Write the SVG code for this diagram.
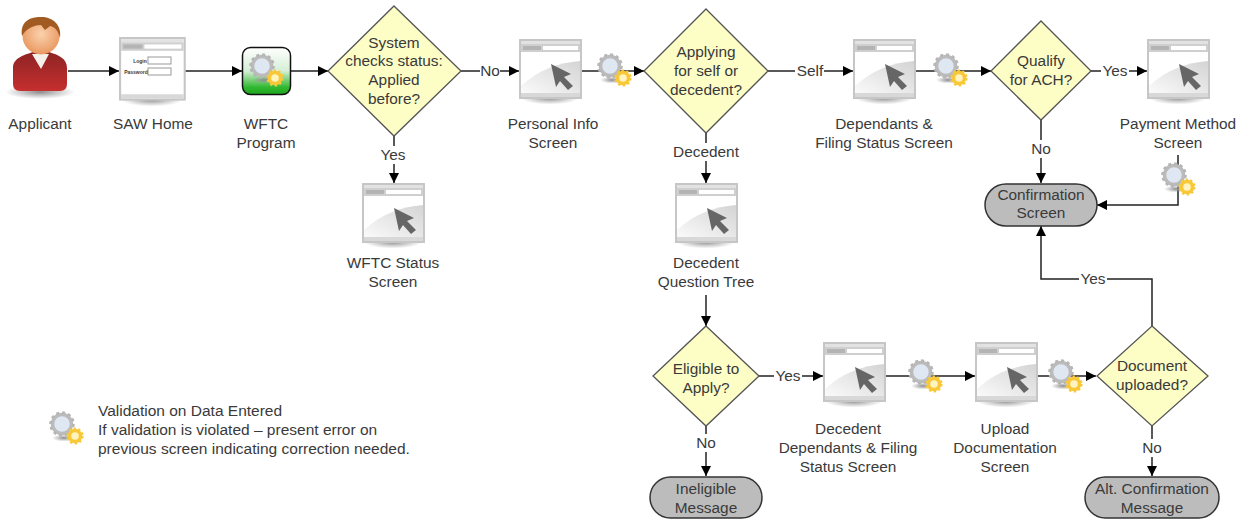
<svg xmlns="http://www.w3.org/2000/svg" width="1247" height="521" viewBox="0 0 1247 521">
<style>
text{font-family:"Liberation Sans",Arial,sans-serif;font-size:15.4px;fill:#3a3a3a;text-anchor:middle}
.legend{text-anchor:start;font-size:15.500px}
.dec{fill:#fdfdc6;stroke:#555;stroke-width:1.3}
.term{fill:#bcbcbc;stroke:#333;stroke-width:1.5}
.c{fill:none;stroke:#222;stroke-width:1.5;marker-end:url(#arrow)}
.lbl{fill:#fff;stroke:none}
</style>
<defs>
<marker id="arrow" markerUnits="userSpaceOnUse" markerWidth="11" markerHeight="11" refX="10" refY="5" orient="auto"><path d="M0 0L10 5L0 10Z" fill="#000"/></marker>
<linearGradient id="gred" x1="0" y1="0" x2="0" y2="1"><stop offset="0" stop-color="#8e2424"/><stop offset="1" stop-color="#c62f2f"/></linearGradient>
<linearGradient id="ggreen" x1="0" y1="0" x2="0" y2="1"><stop offset="0" stop-color="#fff"/><stop offset=".5" stop-color="#d6eed6"/><stop offset=".85" stop-color="#2fb82f"/><stop offset="1" stop-color="#1fa51f"/></linearGradient>
<linearGradient id="gswoosh" x1="0" y1="1" x2="1" y2="0"><stop offset="0" stop-color="#fafafa"/><stop offset="1" stop-color="#d4d4d4"/></linearGradient>
<radialGradient id="gface" cx=".5" cy=".45" r=".6"><stop offset="0" stop-color="#fbd2ad"/><stop offset="1" stop-color="#e8935a"/></radialGradient>
<radialGradient id="gsh" cx=".5" cy=".5" r=".5"><stop offset="0" stop-color="#8c8c8c"/><stop offset="1" stop-color="#999" stop-opacity="0"/></radialGradient>
<g id="window">
<ellipse cx="31" cy="59" rx="29" ry="6.500" fill="url(#gsh)"/>
<rect x="1" y="1" width="61" height="58" fill="#fff" stroke="#c6c6c6" stroke-width="2"/>
<rect x="2" y="2" width="59" height="3" fill="#e2e2e2"/>
<rect x="2" y="5" width="59" height="8" fill="#cfcfcf"/>
<rect x="4" y="7" width="18" height="4" fill="#b4b4b4"/>
<rect x="24" y="7" width="35" height="4" fill="#fff"/>
<rect x="2" y="54" width="59" height="4" fill="#d8d8d8"/>
</g>
<g id="screen">
<use href="#window"/>
<path d="M2 47C20 30 40 24 61 22V54H2Z" fill="url(#gswoosh)"/>
<path d="M32 25L52 35L45 38L54 47L49 51L41 42L37 48Z" fill="#666"/>
</g>
<g id="gear">
<ellipse cx="14" cy="26" rx="12" ry="3.500" fill="url(#gsh)"/>
<circle cx="12" cy="12" r="9.500" fill="#dfe7f3" stroke="#bbb" stroke-width="3.500"/>
<circle cx="12" cy="12" r="11.500" fill="none" stroke="#b5b5b5" stroke-width="2.500" stroke-dasharray="3 3"/>
<circle cx="25" cy="24" r="5.500" fill="#fff4c0" stroke="#f8c838" stroke-width="3.500"/>
<circle cx="25" cy="24" r="7.500" fill="none" stroke="#f8c838" stroke-width="2.200" stroke-dasharray="2.400 2.400"/>
</g>
</defs>
<rect width="1247" height="521" fill="#fff"/>
<g id="connectors">
<path class="c" d="M68 71H119"/>
<path class="c" d="M185 71H242"/>
<path class="c" d="M291 71H328"/>
<path class="c" d="M461 71H519"/>
<path class="c" d="M581 71H644"/>
<path class="c" d="M768 71H853"/>
<path class="c" d="M915 71H991"/>
<path class="c" d="M1091 71H1147"/>
<path class="c" d="M394 136V183"/>
<path class="c" d="M706 133V183"/>
<path class="c" d="M1041 120V183"/>
<path class="c" d="M1178 155V205H1097"/>
<path class="c" d="M706 295V326"/>
<path class="c" d="M759 376H823"/>
<path class="c" d="M885 376H975"/>
<path class="c" d="M1037 376H1096"/>
<path class="c" d="M706 426V476"/>
<path class="c" d="M1152 426V476"/>
<path class="c" d="M1152 326V279H1041V226"/>
</g>
<g id="applicant">
<ellipse cx="40" cy="92" rx="35" ry="7" fill="url(#gsh)"/>
<path d="M13 84V68C13 58 24 55 33 52H49C58 55 67 58 67 68V84Q67 91 60 91H20Q13 91 13 84Z" fill="url(#gred)"/>
<path d="M32 54L41 69L49 54Z" fill="#f4f0ea"/>
<circle cx="41" cy="36" r="18.500" fill="url(#gface)"/>
<path d="M22 36C20 22 29 17 41 17C53 17 62 25 60 38C58 30 55 27 50 26L45 30L41 25C33 25 26 29 22 36Z" fill="#a05a22"/>
<text x="40" y="129">Applicant</text>
</g>
<g id="saw-home">
<use href="#window" transform="translate(119 37) scale(1.060)"/>
<rect x="148" y="57" width="23" height="7" fill="#fff" stroke="#999"/>
<rect x="148" y="68" width="23" height="7" fill="#fff" stroke="#999"/>
<text x="140" y="63" style="font-size:5px;font-weight:bold">Login</text>
<text x="136" y="74" style="font-size:5px;font-weight:bold">Password</text>
<text x="153" y="129">SAW Home</text>
</g>
<g id="wftc-program">
<rect x="242.500" y="47.500" width="48" height="47" rx="8" fill="url(#ggreen)" stroke="#111" stroke-width="1.500"/>
<use href="#gear" transform="translate(250 54)"/>
<text x="266" y="129">WFTC</text><text x="266" y="148">Program</text>
</g>
<g id="system-status">
<polygon class="dec" points="394,6 461,71 394,136 328,71"/>
<text x="394" y="48">System</text><text x="394" y="66">checks status:</text><text x="394" y="85">Applied</text><text x="394" y="104">before?</text>
</g>
<g id="personal-info">
<use href="#screen" transform="translate(519 39)"/>
<text x="553" y="129">Personal Info</text><text x="553" y="148">Screen</text>
</g>
<use id="gear-1" href="#gear" transform="translate(598 54)"/>
<g id="applying">
<polygon class="dec" points="706,9 768,71 706,133 644,71"/>
<text x="706" y="57">Applying</text><text x="706" y="76">for self or</text><text x="706" y="95">decedent?</text>
</g>
<g id="dependants">
<use href="#screen" transform="translate(853 39)"/>
<text x="884" y="129">Dependants &amp;</text><text x="884" y="148">Filing Status Screen</text>
</g>
<use id="gear-2" href="#gear" transform="translate(934 54)"/>
<g id="qualify">
<polygon class="dec" points="1041,21 1091,71 1041,120 991,71"/>
<text x="1041" y="66">Qualify</text><text x="1041" y="85">for ACH?</text>
</g>
<g id="payment-method">
<use href="#screen" transform="translate(1147 39)"/>
<text x="1178" y="129">Payment Method</text><text x="1178" y="148">Screen</text>
</g>
<use id="gear-3" href="#gear" transform="translate(1162 163)"/>
<g id="confirmation">
<rect class="term" x="985" y="184" width="112" height="42" rx="21"/>
<text x="1041" y="200">Confirmation</text><text x="1041" y="218">Screen</text>
</g>
<g id="wftc-status">
<use href="#screen" transform="translate(362 183)"/>
<text x="393" y="268">WFTC Status</text><text x="393" y="287">Screen</text>
</g>
<g id="decedent-tree">
<use href="#screen" transform="translate(675 183)"/>
<text x="706" y="268">Decedent</text><text x="706" y="287">Question Tree</text>
</g>
<g id="eligible">
<polygon class="dec" points="706,326 759,376 706,426 653,376"/>
<text x="706" y="374">Eligible to</text><text x="706" y="393">Apply?</text>
</g>
<g id="decedent-dependants">
<use href="#screen" transform="translate(823 342)"/>
<text x="848" y="434">Decedent</text><text x="848" y="453">Dependants &amp; Filing</text><text x="848" y="472">Status Screen</text>
</g>
<use id="gear-4" href="#gear" transform="translate(909 360)"/>
<g id="upload">
<use href="#screen" transform="translate(975 342)"/>
<text x="1005" y="434">Upload</text><text x="1005" y="453">Documentation</text><text x="1005" y="472">Screen</text>
</g>
<use id="gear-5" href="#gear" transform="translate(1049 360)"/>
<g id="document">
<polygon class="dec" points="1152,326 1208,376 1152,426 1097,376"/>
<text x="1152" y="371">Document</text><text x="1152" y="390">uploaded?</text>
</g>
<g id="ineligible">
<rect class="term" x="650" y="477" width="112" height="41" rx="20.500"/>
<text x="706" y="494">Ineligible</text><text x="706" y="513">Message</text>
</g>
<g id="alt-confirmation">
<rect class="term" x="1085" y="477" width="134" height="41" rx="20.500"/>
<text x="1152" y="494">Alt. Confirmation</text><text x="1152" y="513">Message</text>
</g>
<g id="connector-labels">
<rect class="lbl" x="480" y="62" width="20" height="18"/><text x="490" y="76">No</text>
<rect class="lbl" x="795" y="62" width="29" height="18"/><text x="810" y="76">Self</text>
<rect class="lbl" x="1101" y="62" width="28" height="18"/><text x="1115" y="76">Yes</text>
<rect class="lbl" x="379" y="146" width="28" height="18"/><text x="393" y="160">Yes</text>
<rect class="lbl" x="671" y="143" width="70" height="18"/><text x="706" y="157">Decedent</text>
<rect class="lbl" x="1031" y="140" width="20" height="18"/><text x="1041" y="154">No</text>
<rect class="lbl" x="774" y="367" width="28" height="18"/><text x="788" y="381">Yes</text>
<rect class="lbl" x="696" y="434" width="20" height="18"/><text x="706" y="448">No</text>
<rect class="lbl" x="1142" y="439" width="20" height="18"/><text x="1152" y="453">No</text>
<rect class="lbl" x="1079" y="270" width="28" height="18"/><text x="1093" y="284">Yes</text>
</g>
<g id="legend">
<use href="#gear" transform="translate(50 412)"/>
<text class="legend" x="98" y="416">Validation on Data Entered</text>
<text class="legend" x="98" y="435">If validation is violated – present error on</text>
<text class="legend" x="98" y="454">previous screen indicating correction needed.</text>
</g>
</svg>
